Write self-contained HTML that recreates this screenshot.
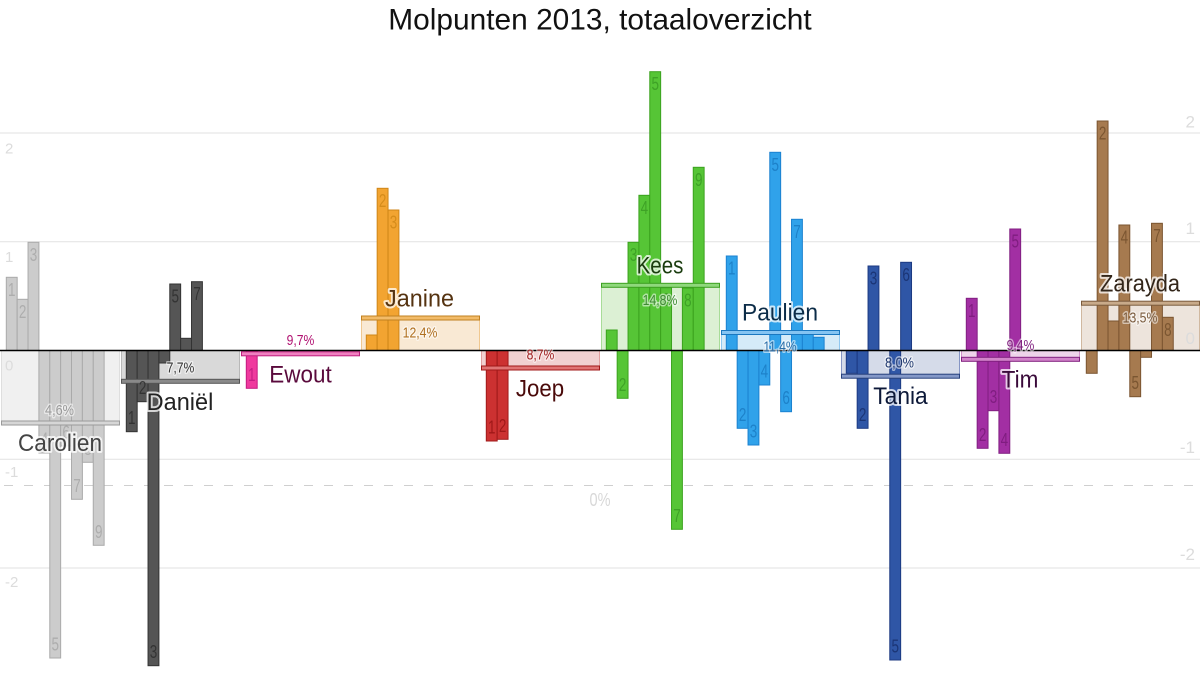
<!DOCTYPE html>
<html><head><meta charset="utf-8"><style>
html,body{margin:0;padding:0;background:#fff;}
svg{display:block;}
text{font-family:"Liberation Sans Narrow","Liberation Sans",sans-serif;}
.bl{font-size:18.5px;text-anchor:middle;opacity:.85}
.pc{font-size:15px;text-anchor:middle;paint-order:stroke;stroke:#fff;stroke-opacity:.55;stroke-width:3px;stroke-linejoin:round}
.nm{font-size:24.5px;text-anchor:middle;paint-order:stroke;stroke:#fff;stroke-opacity:.75;stroke-width:4px;stroke-linejoin:round}
.ax{font-size:15px;fill:#dcdcdc}
.axr{font-size:17px;fill:#dcdcdc;text-anchor:end}
</style></head><body>
<svg width="1200" height="700" viewBox="0 0 1200 700" xmlns="http://www.w3.org/2000/svg">
<rect width="1200" height="700" fill="#fff"/>
<!-- grid -->
<g stroke="#e2e2e2" stroke-width="1">
<line x1="0" y1="133" x2="1200" y2="133"/>
<line x1="0" y1="241.7" x2="1200" y2="241.7"/>
<line x1="0" y1="459.3" x2="1200" y2="459.3"/>
<line x1="0" y1="568" x2="1200" y2="568"/>
</g>
<line x1="0" y1="485.5" x2="1200" y2="485.5" stroke="#cfcfcf" stroke-width="1" stroke-dasharray="9,11" stroke-dashoffset="-4"/>
<text x="600" y="506" style="font-size:18px;fill:#d8d8d8;text-anchor:middle" textLength="21" lengthAdjust="spacingAndGlyphs">0%</text>

<!-- boxes -->
<rect x="1.5" y="350.5" width="118" height="72.5" fill="#f0f0f0" stroke="#dedede"/>
<rect x="121.5" y="350.5" width="118" height="30.8" fill="#d9d9d9" stroke="#b8b8b8"/>
<rect x="241.5" y="350.5" width="118" height="3.3" fill="#f6c6e0" stroke="#ee9ccb"/>
<rect x="361.5" y="318" width="118" height="32.5" fill="#f9e9d4" stroke="#f0c890"/>
<rect x="481.5" y="350.5" width="118" height="17.5" fill="#f1d1d1" stroke="#e0a0a0"/>
<rect x="601.5" y="285.3" width="118" height="65.2" fill="#dcf0d4" stroke="#a8dc98"/>
<rect x="721.5" y="332.5" width="118" height="18" fill="#d5ebf8" stroke="#90c8f0"/>
<rect x="841.5" y="350.5" width="118" height="25.7" fill="#d5dbe9" stroke="#8595c4"/>
<rect x="961.5" y="350.5" width="118" height="8.8" fill="#eed4ea" stroke="#d090c8"/>
<rect x="1081.5" y="303.2" width="118" height="47.3" fill="#ede4dc" stroke="#d0b8a0"/>

<!-- bars -->
<g fill="#cccccc" stroke="#aaaaaa" stroke-width="1">
<rect x="6.3" y="277.3" width="10.87" height="73.2"/>
<rect x="17.17" y="299.3" width="10.87" height="51.2"/>
<rect x="28.04" y="242.3" width="10.87" height="108.2"/>
<rect x="38.91" y="350.5" width="10.87" height="102.5"/>
<rect x="49.78" y="350.5" width="10.87" height="307.5"/>
<rect x="60.65" y="350.5" width="10.87" height="95.5"/>
<rect x="71.52" y="350.5" width="10.87" height="148.8"/>
<rect x="82.39" y="350.5" width="10.87" height="111.8"/>
<rect x="93.26" y="350.5" width="10.87" height="194.8"/>
</g>
<g transform="translate(120,0)" fill="#555555" stroke="#333333" stroke-width="1">
<rect x="6.3" y="350.5" width="10.87" height="81.2"/>
<rect x="17.17" y="350.5" width="10.87" height="51.2"/>
<rect x="28.04" y="350.5" width="10.87" height="315.2"/>
<rect x="38.91" y="350.5" width="10.87" height="12.5"/>
<rect x="49.78" y="284" width="10.87" height="66.5"/>
<rect x="60.65" y="338.3" width="10.87" height="12.2"/>
<rect x="71.52" y="281.7" width="10.87" height="68.8"/>
</g>
<g transform="translate(240,0)" fill="#ef3a9e" stroke="#c41a80" stroke-width="1">
<rect x="6.3" y="350.5" width="10.87" height="37.8"/>
</g>
<g transform="translate(360,0)" fill="#f2a431" stroke="#cf8618" stroke-width="1">
<rect x="6.3" y="335" width="10.87" height="15.5"/>
<rect x="17.17" y="188.3" width="10.87" height="162.2"/>
<rect x="28.04" y="210" width="10.87" height="140.5"/>
</g>
<g transform="translate(480,0)" fill="#cc3131" stroke="#a01a1a" stroke-width="1">
<rect x="6.3" y="350.5" width="10.87" height="90.5"/>
<rect x="17.17" y="350.5" width="10.87" height="88.8"/>
</g>
<g transform="translate(600,0)" fill="#56c536" stroke="#3ba21e" stroke-width="1">
<rect x="6.3" y="330" width="10.87" height="20.5"/>
<rect x="17.17" y="350.5" width="10.87" height="47.8"/>
<rect x="28.04" y="242.3" width="10.87" height="108.2"/>
<rect x="38.91" y="195.3" width="10.87" height="155.2"/>
<rect x="49.78" y="71.7" width="10.87" height="278.8"/>
<rect x="60.65" y="287.7" width="10.87" height="62.8"/>
<rect x="71.52" y="350.5" width="10.87" height="178.8"/>
<rect x="82.39" y="288" width="10.87" height="62.5"/>
<rect x="93.26" y="167.3" width="10.87" height="183.2"/>
</g>
<g transform="translate(720,0)" fill="#30a2ea" stroke="#1b82d0" stroke-width="1">
<rect x="6.3" y="256" width="10.87" height="94.5"/>
<rect x="17.17" y="350.5" width="10.87" height="77.8"/>
<rect x="28.04" y="350.5" width="10.87" height="94.5"/>
<rect x="38.91" y="350.5" width="10.87" height="34.5"/>
<rect x="49.78" y="152.3" width="10.87" height="198.2"/>
<rect x="60.65" y="350.5" width="10.87" height="61.2"/>
<rect x="71.52" y="219.3" width="10.87" height="131.2"/>
<rect x="82.39" y="331" width="10.87" height="19.5"/>
<rect x="93.26" y="337.3" width="10.87" height="13.2"/>
</g>
<g transform="translate(840,0)" fill="#2f56a6" stroke="#1c3a82" stroke-width="1">
<rect x="6.3" y="350.5" width="10.87" height="22.8"/>
<rect x="17.17" y="350.5" width="10.87" height="77.8"/>
<rect x="28.04" y="266" width="10.87" height="84.5"/>
<rect x="49.78" y="350.5" width="10.87" height="309.5"/>
<rect x="60.65" y="262.3" width="10.87" height="88.2"/>
</g>
<g transform="translate(960,0)" fill="#a22fa3" stroke="#811f82" stroke-width="1">
<rect x="6.3" y="298.3" width="10.87" height="52.2"/>
<rect x="17.17" y="350.5" width="10.87" height="97.8"/>
<rect x="28.04" y="350.5" width="10.87" height="60.2"/>
<rect x="38.91" y="350.5" width="10.87" height="102.8"/>
<rect x="49.78" y="229" width="10.87" height="121.5"/>
</g>
<g transform="translate(1080,0)" fill="#a67a4f" stroke="#7b5531" stroke-width="1">
<rect x="6.3" y="350.5" width="10.87" height="22.8"/>
<rect x="17.17" y="121" width="10.87" height="229.5"/>
<rect x="28.04" y="321" width="10.87" height="29.5"/>
<rect x="38.91" y="225" width="10.87" height="125.5"/>
<rect x="49.78" y="350.5" width="10.87" height="46.2"/>
<rect x="60.65" y="350.5" width="10.87" height="6.8"/>
<rect x="71.52" y="223.3" width="10.87" height="127.2"/>
<rect x="82.39" y="317.3" width="10.87" height="33.2"/>
</g>

<!-- level lines -->
<rect x="1.5" y="421" width="118" height="4" fill="#d6d6d6" stroke="#9a9a9a"/>
<rect x="121.5" y="379.3" width="118" height="4" fill="#8a8a8a" stroke="#555"/>
<rect x="241.5" y="351.8" width="118" height="4" fill="#f080c0" stroke="#c0207f"/>
<rect x="361.5" y="316" width="118" height="4" fill="#f2bb68" stroke="#c08020"/>
<rect x="481.5" y="366" width="118" height="4" fill="#e07474" stroke="#a01818"/>
<rect x="601.5" y="283.3" width="118" height="4" fill="#8fd87c" stroke="#3ca020"/>
<rect x="721.5" y="330.5" width="118" height="4" fill="#84c4f2" stroke="#1a78c0"/>
<rect x="841.5" y="374.2" width="118" height="4" fill="#8498c8" stroke="#26407c"/>
<rect x="961.5" y="357.3" width="118" height="4" fill="#d284ca" stroke="#80207f"/>
<rect x="1081.5" y="301.2" width="118" height="4" fill="#c8aa8a" stroke="#7a5a3c"/>

<!-- zero line -->
<line x1="0" y1="350.5" x2="1200" y2="350.5" stroke="#000" stroke-width="1.5"/>

<!-- bar labels -->
<g class="bl" fill="#a8a8a8">
<text x="11.73" y="295.8" textLength="7.5" lengthAdjust="spacingAndGlyphs">1</text>
<text x="22.6" y="317.8" textLength="7.5" lengthAdjust="spacingAndGlyphs">2</text>
<text x="33.47" y="260.8" textLength="7.5" lengthAdjust="spacingAndGlyphs">3</text>
<text x="44.34" y="445.5" textLength="7.5" lengthAdjust="spacingAndGlyphs">4</text>
<text x="55.21" y="650.5" textLength="7.5" lengthAdjust="spacingAndGlyphs">5</text>
<text x="66.08" y="438.5" textLength="7.5" lengthAdjust="spacingAndGlyphs">6</text>
<text x="76.95" y="491.8" textLength="7.5" lengthAdjust="spacingAndGlyphs">7</text>
<text x="87.82" y="454.8" textLength="7.5" lengthAdjust="spacingAndGlyphs">8</text>
<text x="98.69" y="537.8" textLength="7.5" lengthAdjust="spacingAndGlyphs">9</text>
</g>
<g class="bl" fill="#2e2e2e" transform="translate(120,0)">
<text x="11.73" y="424.2" textLength="7.5" lengthAdjust="spacingAndGlyphs">1</text>
<text x="22.6" y="394.2" textLength="7.5" lengthAdjust="spacingAndGlyphs">2</text>
<text x="33.47" y="658.2" textLength="7.5" lengthAdjust="spacingAndGlyphs">3</text>
<text x="55.21" y="302.5" textLength="7.5" lengthAdjust="spacingAndGlyphs">5</text>
<text x="76.95" y="300.2" textLength="7.5" lengthAdjust="spacingAndGlyphs">7</text>
</g>
<g class="bl" fill="#c01a80" transform="translate(240,0)">
<text x="11.73" y="380.8" textLength="7.5" lengthAdjust="spacingAndGlyphs">1</text>
</g>
<g class="bl" fill="#d08818" transform="translate(360,0)">
<text x="22.6" y="206.8" textLength="7.5" lengthAdjust="spacingAndGlyphs">2</text>
<text x="33.47" y="228.5" textLength="7.5" lengthAdjust="spacingAndGlyphs">3</text>
</g>
<g class="bl" fill="#981414" transform="translate(480,0)">
<text x="11.73" y="433.5" textLength="7.5" lengthAdjust="spacingAndGlyphs">1</text>
<text x="22.6" y="431.8" textLength="7.5" lengthAdjust="spacingAndGlyphs">2</text>
</g>
<g class="bl" fill="#3a9c24" transform="translate(600,0)">
<text x="22.6" y="390.8" textLength="7.5" lengthAdjust="spacingAndGlyphs">2</text>
<text x="33.47" y="260.8" textLength="7.5" lengthAdjust="spacingAndGlyphs">3</text>
<text x="44.34" y="213.8" textLength="7.5" lengthAdjust="spacingAndGlyphs">4</text>
<text x="55.21" y="90.2" textLength="7.5" lengthAdjust="spacingAndGlyphs">5</text>
<text x="66.08" y="306.2" textLength="7.5" lengthAdjust="spacingAndGlyphs">6</text>
<text x="76.95" y="521.8" textLength="7.5" lengthAdjust="spacingAndGlyphs">7</text>
<text x="87.82" y="306.5" textLength="7.5" lengthAdjust="spacingAndGlyphs">8</text>
<text x="98.69" y="185.8" textLength="7.5" lengthAdjust="spacingAndGlyphs">9</text>
</g>
<g class="bl" fill="#1a7cc4" transform="translate(720,0)">
<text x="11.73" y="274.5" textLength="7.5" lengthAdjust="spacingAndGlyphs">1</text>
<text x="22.6" y="420.8" textLength="7.5" lengthAdjust="spacingAndGlyphs">2</text>
<text x="33.47" y="437.5" textLength="7.5" lengthAdjust="spacingAndGlyphs">3</text>
<text x="44.34" y="377.5" textLength="7.5" lengthAdjust="spacingAndGlyphs">4</text>
<text x="55.21" y="170.8" textLength="7.5" lengthAdjust="spacingAndGlyphs">5</text>
<text x="66.08" y="404.2" textLength="7.5" lengthAdjust="spacingAndGlyphs">6</text>
<text x="76.95" y="237.8" textLength="7.5" lengthAdjust="spacingAndGlyphs">7</text>
</g>
<g class="bl" fill="#18306e" transform="translate(840,0)">
<text x="22.6" y="420.8" textLength="7.5" lengthAdjust="spacingAndGlyphs">2</text>
<text x="33.47" y="284.5" textLength="7.5" lengthAdjust="spacingAndGlyphs">3</text>
<text x="55.21" y="652.5" textLength="7.5" lengthAdjust="spacingAndGlyphs">5</text>
<text x="66.08" y="280.8" textLength="7.5" lengthAdjust="spacingAndGlyphs">6</text>
</g>
<g class="bl" fill="#7a1a7a" transform="translate(960,0)">
<text x="11.73" y="316.8" textLength="7.5" lengthAdjust="spacingAndGlyphs">1</text>
<text x="22.6" y="440.8" textLength="7.5" lengthAdjust="spacingAndGlyphs">2</text>
<text x="33.47" y="403.2" textLength="7.5" lengthAdjust="spacingAndGlyphs">3</text>
<text x="44.34" y="445.8" textLength="7.5" lengthAdjust="spacingAndGlyphs">4</text>
<text x="55.21" y="247.5" textLength="7.5" lengthAdjust="spacingAndGlyphs">5</text>
</g>
<g class="bl" fill="#74502c" transform="translate(1080,0)">
<text x="22.6" y="139.5" textLength="7.5" lengthAdjust="spacingAndGlyphs">2</text>
<text x="44.34" y="243.5" textLength="7.5" lengthAdjust="spacingAndGlyphs">4</text>
<text x="55.21" y="389.2" textLength="7.5" lengthAdjust="spacingAndGlyphs">5</text>
<text x="76.95" y="241.8" textLength="7.5" lengthAdjust="spacingAndGlyphs">7</text>
<text x="87.82" y="335.8" textLength="7.5" lengthAdjust="spacingAndGlyphs">8</text>
</g>

<!-- percentage labels -->
<text class="pc" x="59.5" y="415" fill="#9a9a9a" textLength="29" lengthAdjust="spacingAndGlyphs">4,6%</text>
<text class="pc" x="180.5" y="372.7" fill="#333" textLength="27.7" lengthAdjust="spacingAndGlyphs">7,7%</text>
<text class="pc" x="300.5" y="345" fill="#b01070" textLength="27.7" lengthAdjust="spacingAndGlyphs">9,7%</text>
<text class="pc" x="420" y="337.3" fill="#b07020" textLength="34.7" lengthAdjust="spacingAndGlyphs">12,4%</text>
<text class="pc" x="540.5" y="359.3" fill="#a02020" textLength="27.7" lengthAdjust="spacingAndGlyphs">8,7%</text>
<text class="pc" x="660" y="305" fill="#3f8a34" textLength="34.7" lengthAdjust="spacingAndGlyphs">14,8%</text>
<text class="pc" x="780" y="351.7" fill="#2a6ea8" textLength="33.3" lengthAdjust="spacingAndGlyphs">11,4%</text>
<text class="pc" x="899.5" y="367.3" fill="#223a70" textLength="29" lengthAdjust="spacingAndGlyphs">8,0%</text>
<text class="pc" x="1020.5" y="350" fill="#80207f" textLength="27.7" lengthAdjust="spacingAndGlyphs">9,4%</text>
<text class="pc" x="1140" y="322.3" fill="#7a5a3c" textLength="34.7" lengthAdjust="spacingAndGlyphs">13,5%</text>

<!-- names -->
<text class="nm" x="60" y="451" fill="#444" textLength="84" lengthAdjust="spacingAndGlyphs">Carolien</text>
<text class="nm" x="180" y="410" fill="#222" textLength="66.7" lengthAdjust="spacingAndGlyphs">Daniël</text>
<text class="nm" x="300.5" y="382.7" fill="#5a0a3c" textLength="62.4" lengthAdjust="spacingAndGlyphs">Ewout</text>
<text class="nm" x="419.5" y="306.7" fill="#553311" textLength="69" lengthAdjust="spacingAndGlyphs">Janine</text>
<text class="nm" x="540" y="396.7" fill="#4a0a0a" textLength="48.3" lengthAdjust="spacingAndGlyphs">Joep</text>
<text class="nm" x="660" y="273.3" fill="#1a3c0e" textLength="46.7" lengthAdjust="spacingAndGlyphs">Kees</text>
<text class="nm" x="780" y="320.7" fill="#0c2c48" textLength="76" lengthAdjust="spacingAndGlyphs">Paulien</text>
<text class="nm" x="900.5" y="404" fill="#0c1838" textLength="54.4" lengthAdjust="spacingAndGlyphs">Tania</text>
<text class="nm" x="1020" y="387.3" fill="#3a0a3a" textLength="36.7" lengthAdjust="spacingAndGlyphs">Tim</text>
<text class="nm" x="1140" y="291.7" fill="#33261a" textLength="80" lengthAdjust="spacingAndGlyphs">Zarayda</text>

<!-- axis labels -->
<text class="ax" x="5" y="153.3">2</text>
<text class="ax" x="5" y="262">1</text>
<text class="ax" x="5" y="370.5">0</text>
<text class="ax" x="5" y="477">-1</text>
<text class="ax" x="5" y="587">-2</text>
<text class="axr" x="1195" y="127.3">2</text>
<text class="axr" x="1195" y="234">1</text>
<text class="axr" x="1195" y="344">0</text>
<text class="axr" x="1195" y="453">-1</text>
<text class="axr" x="1195" y="560">-2</text>

<!-- title -->
<text x="388.3" y="29.5" style="font-size:30px;fill:#111;font-family:'Liberation Sans Narrow','Liberation Sans',sans-serif" textLength="423.4" lengthAdjust="spacingAndGlyphs">Molpunten 2013, totaaloverzicht</text>
</svg>
</body></html>
